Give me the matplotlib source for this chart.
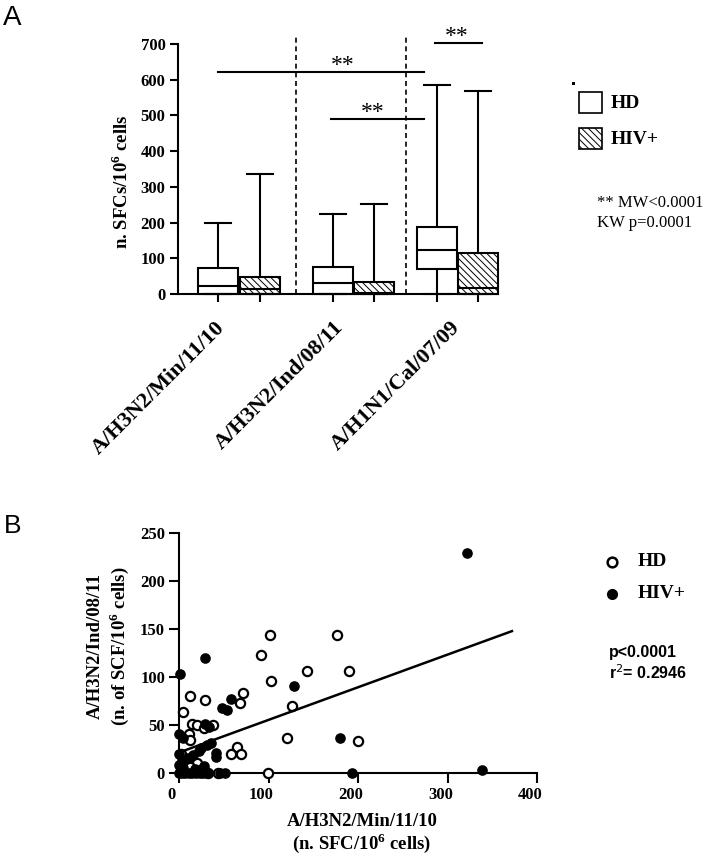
import matplotlib
matplotlib.use("Agg")
import matplotlib.pyplot as plt
from matplotlib.patches import Rectangle
from matplotlib.lines import Line2D
from matplotlib.transforms import ScaledTranslation

plt.rcParams['font.family'] = ['Liberation Serif', 'DejaVu Serif']
plt.rcParams['hatch.linewidth'] = 0.7
plt.rcParams['mathtext.fontset'] = 'custom'
plt.rcParams['mathtext.rm'] = 'Liberation Serif'
plt.rcParams['mathtext.bf'] = 'Liberation Serif:bold'

# ---------------- data: panel A ----------------
categories = ["A/H3N2/Min/11/10", "A/H3N2/Ind/08/11", "A/H1N1/Cal/07/09"]
groups = ["HD", "HIV+"]
# box statistics per box, order: HD1, HIV1, HD2, HIV2, HD3, HIV3
box_med = [23, 15, 30, 2, 122, 16]
box_q1 = [0, 0, 0, 0, 69, 0]
box_q3 = [72, 47, 76, 35, 188, 114]
box_lo = [0, 0, 0, 0, 0, 0]
box_hi = [200, 336, 224, 252, 584, 569]
a_yticks = [0, 100, 200, 300, 400, 500, 600, 700]
# significance bars: (x start, x end, y), star x
sig_x1 = [40, 153, 257]
sig_x2 = [246, 246, 304]
sig_y = [622, 490, 702]
sig_star_x = [165, 195, 279]

# ---------------- data: panel B ----------------
hd_x = [102, 176, 92, 143, 190, 103, 12, 29, 72, 68, 5, 126, 14, 20, 28, 11, 12,
        121, 200, 65, 58, 69, 8, 2, 32, 44, 99, 20, 12, 24, 38]
hd_y = [143, 143, 123, 106, 106, 96, 80, 76, 83, 73, 63, 70, 51, 50, 47, 40, 34,
        36, 33, 27, 20, 20, 13, 20, 0, 0, 0, 10, 6, 3, 50]
hiv_x = [1, 29, 129, 58, 48, 54, 180, 193, 338, 322, 0, 4, 29, 33, 36, 31, 41, 41,
         22, 25, 16, 10, 0, 3, 28, 0, 46, 51, 0, 3, 7, 11, 15, 19, 23, 27, 31, 5, 18]
hiv_y = [103, 120, 90, 77, 67, 65, 36, 0, 3, 229, 40, 36, 51, 48, 31, 29, 21, 16,
         23, 26, 18, 15, 20, 13, 7, 8, 0, 0, 0, 0, 0, 0, 0, 0, 0, 0, 0, 5, 4]
fit_intercept = 21.0
fit_slope = 0.34
fit_xmax = 372
b_xticks = [0, 100, 200, 300, 400]
b_yticks = [0, 50, 100, 150, 200, 250]

W, H = 706, 859
fig = plt.figure(figsize=(W / 100, H / 100), dpi=100)


def fx(px):
    return px / W


def fy(py):
    return 1 - py / H


# ================= Panel A =================
axA = fig.add_axes([fx(178), fy(294), 320 / W, 250 / H])
axA.set_xlim(0, 320)
axA.set_ylim(0, 700)
for s in ['top', 'right']:
    axA.spines[s].set_visible(False)
for s in ['left', 'bottom']:
    axA.spines[s].set_linewidth(1.5)

positions = [40, 82, 155, 196, 259, 300]
stats = []
for i in range(6):
    stats.append(dict(med=box_med[i], q1=box_q1[i], q3=box_q3[i],
                      whislo=box_lo[i], whishi=box_hi[i], fliers=[]))
bp = axA.bxp(stats, positions=positions, widths=40, patch_artist=True,
             showfliers=False, capwidths=26, manage_ticks=False,
             boxprops=dict(linewidth=1.5, edgecolor='black', facecolor='white'),
             whiskerprops=dict(linewidth=1.5, color='black'),
             capprops=dict(linewidth=1.5, color='black'),
             medianprops=dict(linewidth=1.5, color='black'))
for i, patch in enumerate(bp['boxes']):
    if i % 2 == 1:
        patch.set_hatch('\\\\\\\\\\')
    patch.set_clip_on(False)
for key in ['whiskers', 'caps', 'medians']:
    for art in bp[key]:
        art.set_clip_on(False)
        art.set_zorder(3)

axA.set_yticks(a_yticks)
axA.set_yticklabels([str(v) for v in a_yticks], fontsize=12, fontweight='bold')
axA.set_xticks(positions)
axA.set_xticklabels([])
axA.tick_params(axis='both', direction='out', length=6, width=1.5, pad=3)

# dashed separators
for xv in [118, 228]:
    axA.plot([xv, xv], [0, 722], ls=(0, (3, 2.2)), color='black', lw=1.2,
             clip_on=False, zorder=1)

# significance bars
for x1, x2, yv, sx in zip(sig_x1, sig_x2, sig_y, sig_star_x):
    axA.plot([x1, x2], [yv, yv], color='black', lw=1.5, clip_on=False)
    axA.text(sx, yv + 3, "**", fontsize=17, ha='center', va='baseline')

# category labels
label_anchor = [37, 155, 272]
for c, lab in zip(label_anchor, categories):
    axA.annotate(lab, xy=(c, 0), xycoords=('data', 'axes fraction'),
                 xytext=(0, -17), textcoords='offset points',
                 rotation=45, rotation_mode='anchor', ha='right', va='top',
                 fontsize=16, fontweight='bold')

fig.text(fx(122), fy(182), r"n. SFCs/10$^{\mathbf{6}}$ cells", rotation=90,
         ha='center', va='center', fontsize=13.5, fontweight='bold')

# legend A
fig.add_artist(Rectangle((fx(572), fy(85)), 3 / W, 3 / H, facecolor='black',
                         edgecolor='none', transform=fig.transFigure))
fig.add_artist(Rectangle((fx(579), fy(113)), 23 / W, 21 / H, facecolor='white',
                         edgecolor='black', lw=1.2, transform=fig.transFigure))
fig.add_artist(Rectangle((fx(579), fy(149)), 23 / W, 21 / H, facecolor='white',
                         edgecolor='black', lw=1.2, hatch='\\\\\\\\\\',
                         transform=fig.transFigure))
fig.text(fx(611), fy(103), groups[0], fontsize=14, fontweight='bold', va='center')
fig.text(fx(611), fy(139), groups[1], fontsize=14, fontweight='bold', va='center')
fig.text(fx(597), fy(203), "** MW<0.0001", fontsize=12, va='center')
fig.text(fx(597), fy(223), "KW p=0.0001", fontsize=12, va='center')

fig.text(fx(3), fy(25), "A", fontsize=20, family='Liberation Sans', va='baseline')

# ================= Panel B =================
axB = fig.add_axes([fx(179), fy(772.7), 358 / W, 240 / H])
axB.set_xlim(0, 400)
axB.set_ylim(0, 250)
for s in ['top', 'right']:
    axB.spines[s].set_visible(False)
for s in ['left', 'bottom']:
    axB.spines[s].set_linewidth(1.5)
axB.set_xticks(b_xticks)
axB.set_xticklabels([str(v) for v in b_xticks], fontsize=12, fontweight='bold')
axB.set_yticks(b_yticks)
axB.set_yticklabels([str(v) for v in b_yticks], fontsize=12, fontweight='bold')
axB.tick_params(axis='both', direction='out', length=7, width=1.5, pad=3)
offset = ScaledTranslation(-0.07, 0, fig.dpi_scale_trans)
for lab in axB.get_xticklabels():
    lab.set_transform(lab.get_transform() + offset)

axB.scatter(hd_x, hd_y, s=44, facecolors='white', edgecolors='black',
            linewidths=1.6, clip_on=False, zorder=3)
axB.scatter(hiv_x, hiv_y, s=44, facecolors='black', edgecolors='black',
            linewidths=1.0, clip_on=False, zorder=4)
axB.plot([0, fit_xmax], [fit_intercept, fit_intercept + fit_slope * fit_xmax],
         color='black', lw=1.8, zorder=5, clip_on=False)

fig.text(fx(95), fy(646), "A/H3N2/Ind/08/11", rotation=90, ha='center',
         va='center', fontsize=13.5, fontweight='bold')
fig.text(fx(119), fy(646), r"(n. of SCF/10$^{\mathbf{6}}$ cells)", rotation=90,
         ha='center', va='center', fontsize=13.5, fontweight='bold')
fig.text(fx(362), fy(822), "A/H3N2/Min/11/10", ha='center', va='center',
         fontsize=13.5, fontweight='bold')
fig.text(fx(362), fy(843), r"(n. SFC/10$^{\mathbf{6}}$ cells)", ha='center',
         va='center', fontsize=13.5, fontweight='bold')

# legend B
fig.add_artist(Line2D([fx(612)], [fy(562)], marker='o', markersize=7,
                      markerfacecolor='white', markeredgecolor='black',
                      markeredgewidth=1.8, transform=fig.transFigure))
fig.add_artist(Line2D([fx(612)], [fy(594)], marker='o', markersize=7,
                      markerfacecolor='black', markeredgecolor='black',
                      transform=fig.transFigure))
fig.text(fx(638), fy(562), groups[0], fontsize=14, fontweight='bold', va='center')
fig.text(fx(638), fy(594), groups[1], fontsize=14, fontweight='bold', va='center')
fig.text(fx(609), fy(653), "p<0.0001", fontsize=11.5, fontweight='bold',
         family='Liberation Sans', va='center')
fig.text(fx(609), fy(673), r"r$^{\mathsf{2}}$= 0.2946", fontsize=11.5,
         fontweight='bold', family='Liberation Sans', va='center')

fig.text(fx(4), fy(533), "B", fontsize=19, family='Liberation Sans', va='baseline')

fig.savefig("out.png", dpi=100)
